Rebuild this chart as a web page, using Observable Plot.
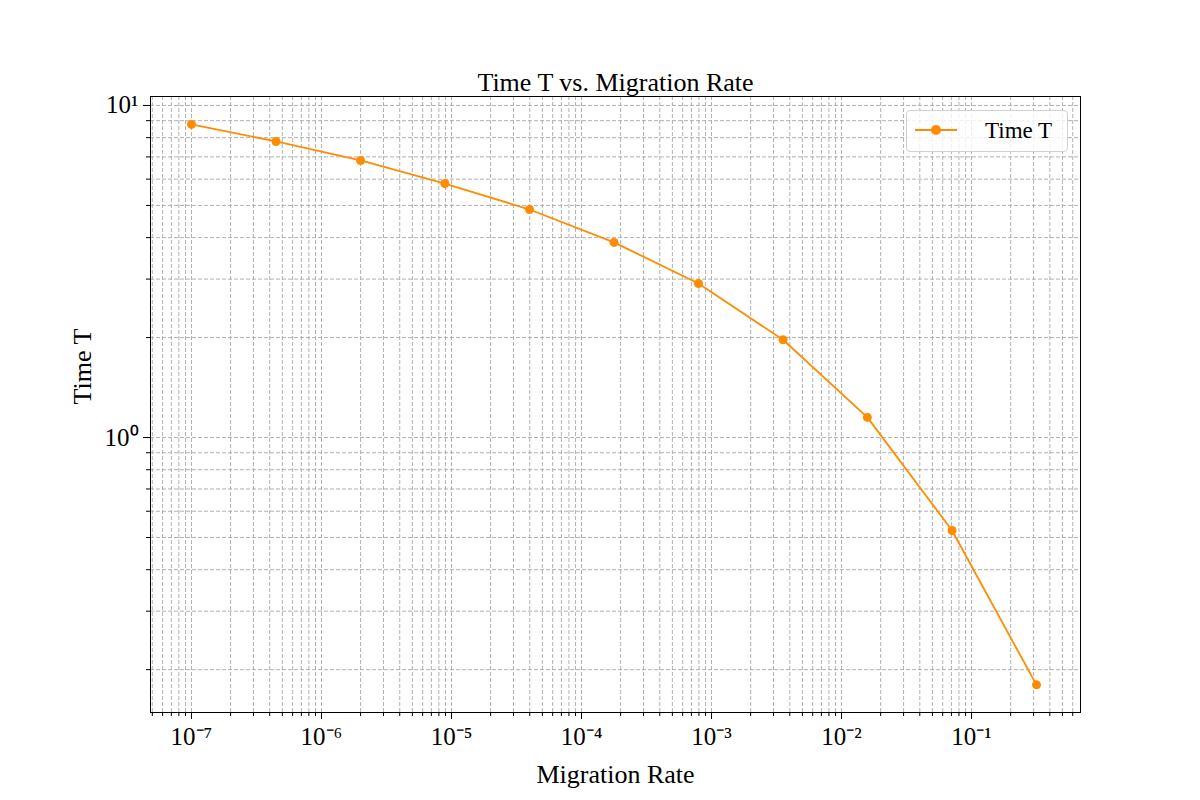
<!DOCTYPE html>
<html><head><meta charset="utf-8">
<script src="https://cdn.jsdelivr.net/npm/d3@7"></script>
<script src="https://cdn.jsdelivr.net/npm/@observablehq/plot@0.6"></script>
<style>body{margin:0;background:#fff;font-family:"Liberation Serif",serif}#wrap{position:relative;width:1200px;height:800px}
#legend{position:absolute;left:906px;top:110px;width:162px;height:42px;border:1px solid #d0d0d0;border-radius:4px;background:rgba(255,255,255,.8);box-sizing:border-box;font-size:22px}
</style></head><body><div id="wrap"><div id="legend"><svg width="160" height="42"><line x1="8" x2="50" y1="19" y2="19" stroke="#ff8c00" stroke-width="2"/><circle cx="29" cy="19" r="5" fill="#ff8c00"/><text x="78" y="27" font-size="23" font-family="Liberation Serif">Time T</text></svg></div></div>
<script>
const migrationRate = [1e-7, 4.47e-7, 2e-6, 8.9e-6, 3.98e-5, 1.78e-4, 7.94e-4, 3.55e-3, 1.58e-2, 7.08e-2, 3.16e-1];
const timeT = [8.77, 7.79, 6.83, 5.82, 4.86, 3.87, 2.91, 1.97, 1.15, 0.525, 0.180];
const xMajor = [1e-7,1e-6,1e-5,1e-4,1e-3,1e-2,1e-1];
const yMajor = [1, 10];
const title = "Time T vs. Migration Rate";
const xLabel = "Migration Rate", yLabel = "Time T";

const xDom = [10**-7.315, 10**-0.162], yDom = [10**-0.828, 10**1.027];
const minors = (lo, hi) => { const r=[]; for (let e=lo;e<=hi;e++) for (let m=2;m<=9;m++) r.push(m*10**e); return r; };
const xMinor = minors(-8,0).filter(v=>v>=xDom[0]&&v<=xDom[1]);
const yMinor = minors(-1,1).filter(v=>v>=yDom[0]&&v<=yDom[1]);
const sup = {"-":"⁻","0":"⁰","1":"¹","2":"²","3":"³","4":"⁴","5":"⁵","6":"⁶","7":"⁷","8":"⁸","9":"⁹"};
const fmt = v => "10" + String(Math.round(Math.log10(v))).split("").map(c=>sup[c]).join("");
const grid = {stroke:"#a8a8a8", strokeOpacity:1, strokeDasharray:"4,2", strokeWidth:0.9};
const chart = Plot.plot({
  width:1200, height:800, marginLeft:150, marginRight:120, marginTop:96, marginBottom:88,
  style:{fontFamily:"Liberation Serif", fontSize:"25px", background:"transparent"},
  x:{type:"log", domain:xDom}, y:{type:"log", domain:yDom},
  marks:[
    Plot.ruleX([...xMajor, ...xMinor], grid),
    Plot.ruleY([...yMajor, ...yMinor], grid),
    Plot.axisX(xMajor, {tickSize:7, tickPadding:8, tickFormat:fmt, fontSize:25, label:null}),
    Plot.axisX(xMinor, {tickSize:4, tickFormat:()=>"", label:null}),
    Plot.axisY(yMajor, {tickSize:7, tickPadding:5, tickFormat:fmt, fontSize:25, label:null}),
    Plot.axisY(yMinor, {tickSize:4, tickFormat:()=>"", label:null}),
    Plot.frame({stroke:"black"}),
    Plot.line(migrationRate.map((m,i)=>({m,t:timeT[i]})), {x:"m", y:"t", stroke:"#ff8c00", strokeWidth:1.8}),
    Plot.dot(migrationRate.map((m,i)=>({m,t:timeT[i]})), {x:"m", y:"t", fill:"#ff8c00", r:4.5}),
    Plot.text([title], {frameAnchor:"top", lineAnchor:"bottom", dy:-6, fontSize:26, fill:"black"}),
    Plot.text([xLabel], {frameAnchor:"bottom", lineAnchor:"bottom", dy:70, fontSize:26, fill:"black"}),
    Plot.text([yLabel], {frameAnchor:"left", dx:-68, rotate:-90, fontSize:26, fill:"black"})
  ]
});
chart.style.position="absolute"; chart.style.left="0"; chart.style.top="0";
const w=document.getElementById("wrap"); w.insertBefore(chart, w.firstChild);
</script></body></html>
